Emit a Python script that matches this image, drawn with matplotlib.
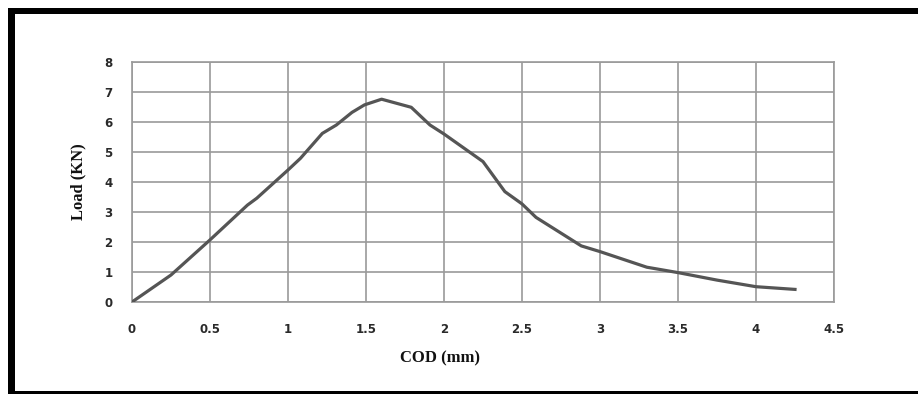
import matplotlib
matplotlib.use("Agg")
import matplotlib.pyplot as plt
from matplotlib.patches import Rectangle

cod = [0.0, 0.25, 0.5, 0.74, 0.80, 1.0, 1.08, 1.22, 1.31, 1.41, 1.49, 1.60, 1.79, 1.91, 2.0, 2.25, 2.39, 2.50, 2.59, 2.88, 3.0, 3.30, 3.5, 3.75, 4.0, 4.25]
load = [0.0, 0.9, 2.07, 3.23, 3.46, 4.4, 4.79, 5.62, 5.9, 6.32, 6.57, 6.76, 6.49, 5.9, 5.6, 4.68, 3.68, 3.27, 2.82, 1.87, 1.68, 1.16, 0.98, 0.73, 0.51, 0.42]

xticks = [0, 0.5, 1, 1.5, 2, 2.5, 3, 3.5, 4, 4.5]
xticklabels = ["0", "0.5", "1", "1.5", "2", "2.5", "3", "3.5", "4", "4.5"]
yticks = [0, 1, 2, 3, 4, 5, 6, 7, 8]
yticklabels = ["0", "1", "2", "3", "4", "5", "6", "7", "8"]

W, H = 918, 394
fig = plt.figure(figsize=(W / 100, H / 100), dpi=100)
fig.patch.set_facecolor("white")

ax = fig.add_axes([132 / W, (H - 302) / H, 702 / W, 240 / H])
ax.plot(cod, load, color="#555555", lw=2.3, solid_joinstyle="round", zorder=3)
ax.set_xlim(0, 4.5)
ax.set_ylim(0, 8)
ax.set_xticks(xticks)
ax.set_xticklabels(xticklabels)
ax.set_yticks(yticks)
ax.set_yticklabels(yticklabels)
ax.grid(True, color="#9a9a9a", lw=1.2)
for s in ax.spines.values():
    s.set_color("#9a9a9a")
    s.set_linewidth(1.2)
ax.tick_params(length=0, labelsize=8.5, colors="#2a2a2a")
ax.tick_params(axis="x", pad=15)
ax.tick_params(axis="y", pad=14)
for lab in ax.get_xticklabels() + ax.get_yticklabels():
    lab.set_fontweight("bold")
    lab.set_family("DejaVu Sans")

fig.text(440 / W, 1 - 358 / H, "COD (mm)", ha="center", va="center",
         family="Liberation Serif", fontweight="bold", fontsize=12, color="#111111")
fig.text(78 / W, 1 - 182 / H, "Load (KN)", ha="center", va="center", rotation=90,
         family="Liberation Serif", fontweight="bold", fontsize=12, color="#111111")

# outer frame
fig.patches.append(Rectangle((8 / W, 0), 7 / W, (H - 8) / H, transform=fig.transFigure,
                             facecolor="black", edgecolor="none"))
fig.patches.append(Rectangle((8 / W, (H - 14) / H), (W - 8) / W, 6 / H, transform=fig.transFigure,
                             facecolor="black", edgecolor="none"))
fig.patches.append(Rectangle((8 / W, 0), (W - 8) / W, 3 / H, transform=fig.transFigure,
                             facecolor="black", edgecolor="none"))

fig.savefig("out.png", dpi=100, facecolor="white")
